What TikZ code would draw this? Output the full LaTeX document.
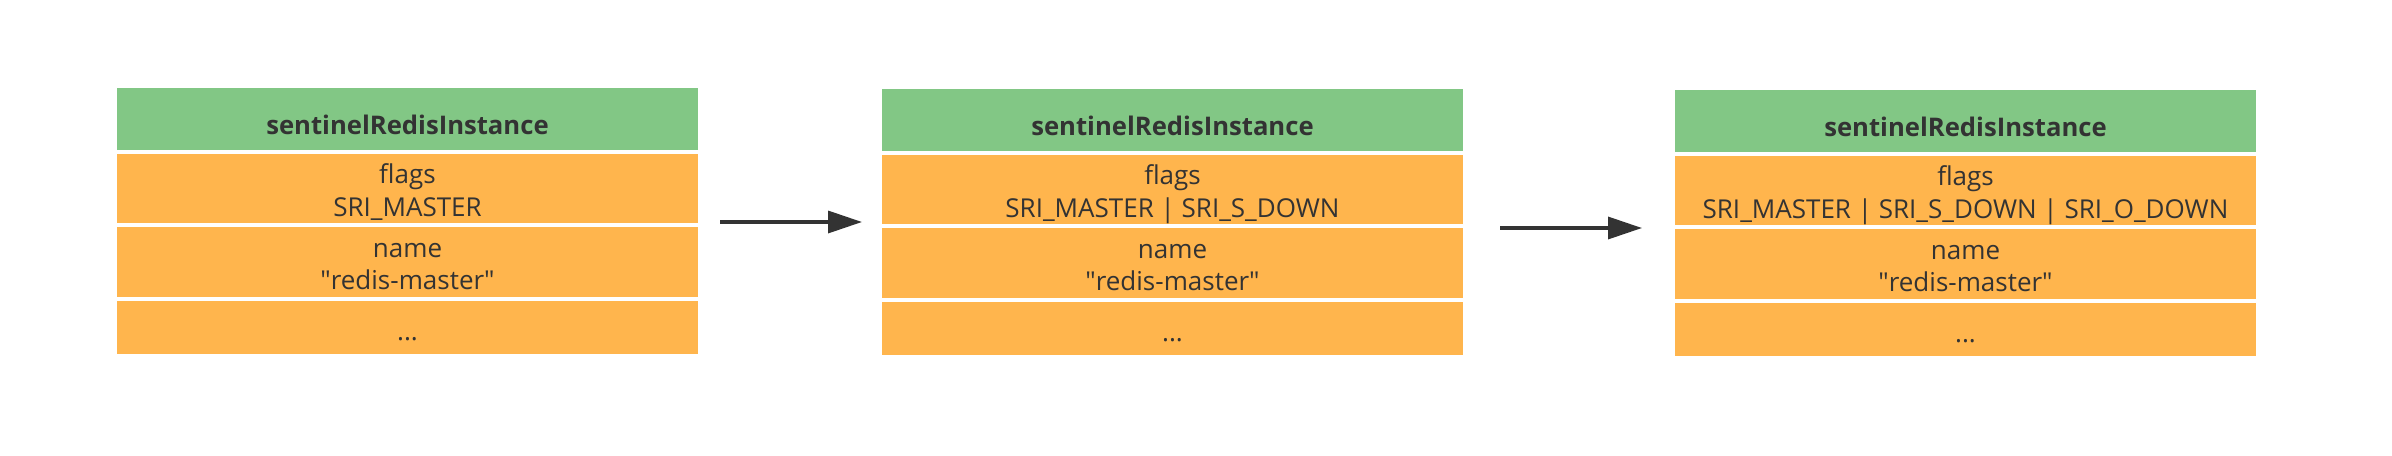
\documentclass[tikz,border=0pt]{standalone}
\usepackage{fontspec}
\setmainfont{Open Sans}
\usepackage{xcolor}
\usepackage{tikz}
\usetikzlibrary{positioning,arrows.meta}

\definecolor{headgreen}{RGB}{130,199,133}
\definecolor{fieldorange}{RGB}{255,181,77}
\definecolor{textgray}{RGB}{51,51,51}

\begin{document}
\begin{tikzpicture}[node distance=0.04cm, >={Triangle[length=0.34cm,width=0.22cm]}]
    \tikzstyle{head} = [rectangle, fill=headgreen, minimum width=5.81cm, minimum height=0.62cm, inner sep=0pt, outer sep=0pt, text=textgray, font=\fontsize{7.3}{9.2}\selectfont\bfseries, text height=0.36cm, text depth=0.05cm]
    \tikzstyle{field} = [rectangle, fill=fieldorange, minimum width=5.81cm, inner sep=0pt, outer sep=0pt, text=textgray, align=center, font=\fontsize{7.4}{9.2}\selectfont, text height=0.61cm, text depth=0.06cm]
    \tikzstyle{more} = [field, minimum height=0.53cm, text height=0.32cm, text depth=0.06cm]
    \tikzstyle{arrow} = [draw=textgray, ->, line width=0.035cm]

    \useasboundingbox (0,0) rectangle (23.92,-4.56);

    % first state
    \node [head, anchor=north west] (h1) at (1.17,-0.883) {sentinelRedisInstance};
    \node [field, minimum height=0.69cm, below=of h1] (f1) {flags\\SRI\_MASTER};
    \node [field, minimum height=0.70cm, below=of f1] (n1) {name\\\textquotedbl redis-master\textquotedbl};
    \node [more, below=of n1] (d1) {...};

    % subjectively down
    \node [head, right=1.84cm of h1, yshift=-0.01cm] (h2) {sentinelRedisInstance};
    \node [field, minimum height=0.69cm, below=of h2] (f2) {flags\\SRI\_MASTER | SRI\_S\_DOWN};
    \node [field, minimum height=0.70cm, below=of f2] (n2) {name\\\textquotedbl redis-master\textquotedbl};
    \node [more, below=of n2] (d2) {...};

    % objectively down
    \node [head, right=2.12cm of h2, yshift=-0.007cm] (h3) {sentinelRedisInstance};
    \node [field, minimum height=0.69cm, below=of h3] (f3) {flags\\SRI\_MASTER | SRI\_S\_DOWN | SRI\_O\_DOWN};
    \node [field, minimum height=0.70cm, below=of f3] (n3) {name\\\textquotedbl redis-master\textquotedbl};
    \node [more, below=of n3] (d3) {...};

    \draw [arrow, shorten <=0.22cm, shorten >=0.20cm] ([yshift=0.013cm]f1.south east) -- ([yshift=0.013cm]f1.south east -| f2.west);
    \draw [arrow, shorten <=0.37cm, shorten >=0.33cm] ([yshift=-0.037cm]f2.south east) -- ([yshift=-0.037cm]f2.south east -| f3.west);
\end{tikzpicture}
\end{document}
